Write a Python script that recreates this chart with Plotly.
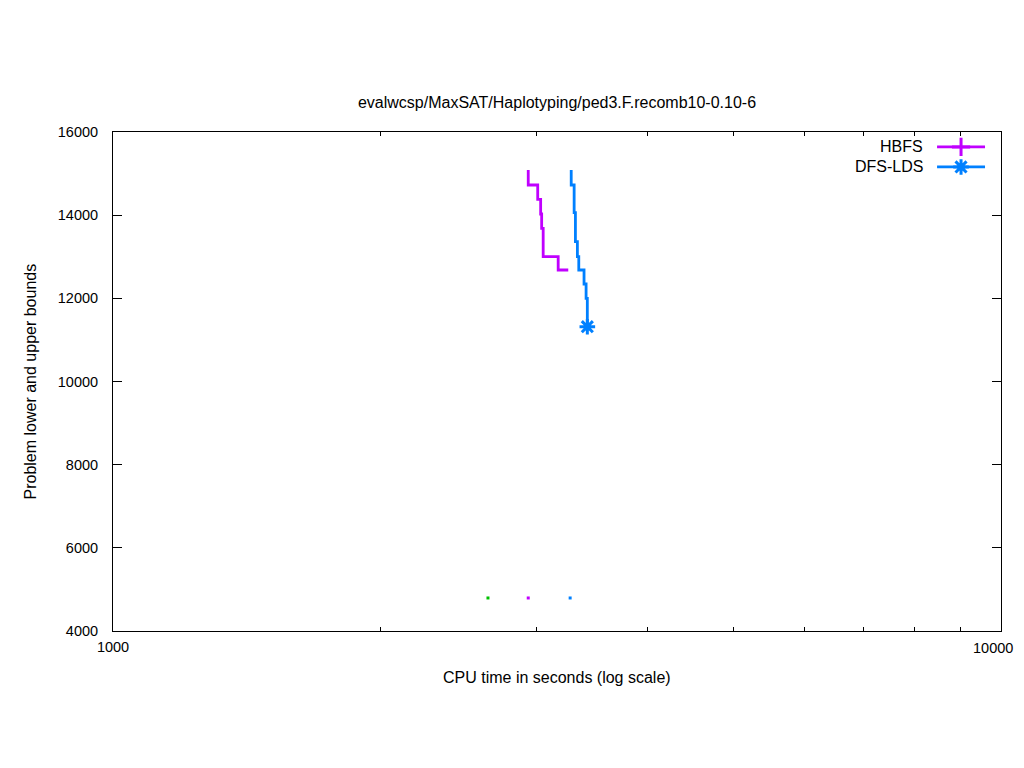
import plotly.graph_objects as go

# ---- data ----
hbfs_time = [2935, 3008, 3031, 3039, 3051, 3172, 3256]
hbfs_bound = [15086, 14725, 14382, 14028, 13684, 13001, 12681]

dfs_time = [3281, 3306, 3317, 3334, 3346, 3392, 3410, 3421, 3421]
dfs_bound = [15086, 14725, 14059, 13362, 13001, 12681, 12345, 12000, 11318]

lb_time = [2644, 2935, 3272]
lb_bound = [4794, 4794, 4794]
lb_colors = ["#00C000", "#C000FF", "#0080FF"]

x_major = [1000, 10000]
x_major_labels = ["1000", "10000"]
x_minor = [2000, 3000, 4000, 5000, 6000, 7000, 8000, 9000]
y_ticks = [4000, 6000, 8000, 10000, 12000, 14000, 16000]

PURPLE = "#C000FF"
BLUE = "#0080FF"
FONT = "Liberation Sans, Arial, sans-serif"
LW = 2.8

fig = go.Figure()

fig.add_trace(go.Scatter(x=hbfs_time, y=hbfs_bound, mode="lines",
                         line=dict(color=PURPLE, width=LW, shape="vh"),
                         showlegend=False))
fig.add_trace(go.Scatter(x=dfs_time, y=dfs_bound, mode="lines",
                         line=dict(color=BLUE, width=LW, shape="vh"),
                         showlegend=False))
fig.add_trace(go.Scatter(x=[dfs_time[-1]], y=[dfs_bound[-1]], mode="markers",
                         marker=dict(symbol="asterisk-open", size=13, color=BLUE,
                                     line=dict(color=BLUE, width=3)),
                         showlegend=False))
fig.add_trace(go.Scatter(x=lb_time, y=lb_bound, mode="markers",
                         marker=dict(symbol="square", size=3, color=lb_colors),
                         showlegend=False))

# ---- gnuplot-style legend on an overlay axis ----
legend_names = ["HBFS", "DFS-LDS"]
legend_colors = [PURPLE, BLUE]
legend_symbols = ["cross-thin-open", "asterisk-open"]
legend_y = [0.970, 0.930]
for name, col, sym, ly in zip(legend_names, legend_colors, legend_symbols, legend_y):
    fig.add_trace(go.Scatter(x=[0.928, 0.982], y=[ly, ly], mode="lines",
                             line=dict(color=col, width=LW), xaxis="x2", yaxis="y2",
                             showlegend=False, hoverinfo="skip"))
    fig.add_trace(go.Scatter(x=[0.955], y=[ly], mode="markers",
                             marker=dict(symbol=sym, size=13, color=col,
                                         line=dict(color=col, width=3)),
                             xaxis="x2", yaxis="y2", showlegend=False, hoverinfo="skip"))
    fig.add_annotation(x=0.914, y=ly, xref="paper", yref="paper", text=name,
                       showarrow=False, xanchor="right", yanchor="middle",
                       font=dict(family=FONT, size=16, color="black"))

fig.update_layout(
    width=1016, height=740,
    margin=dict(l=105, r=23, t=124, b=117),
    paper_bgcolor="white", plot_bgcolor="white",
    font=dict(family=FONT, size=14.5, color="black"),
    showlegend=False,
    title=dict(text="evalwcsp/MaxSAT/Haplotyping/ped3.F.recomb10-0.10-6",
               x=549 / 1016, xanchor="center", y=1 - 94 / 740, yanchor="middle",
               yref="container", font=dict(family=FONT, size=16)),
    xaxis=dict(type="log", range=[3, 4], tickvals=x_major, ticktext=[x_major_labels[0], ""],
               ticks="inside", ticklen=9, tickwidth=1, tickcolor="black",
               showline=True, linecolor="black", linewidth=1, mirror="allticks",
               showgrid=False, zeroline=False, automargin=False, ticklabelstandoff=3,
               tickfont=dict(family=FONT, size=14.5),
               minor=dict(tickvals=x_minor, ticks="inside", ticklen=4, tickcolor="black",
                          showgrid=False)),
    yaxis=dict(range=[4000, 16000], tickvals=y_ticks, ticktext=[str(v) for v in y_ticks],
               ticks="inside", ticklen=9, tickwidth=1, tickcolor="black",
               showline=True, linecolor="black", linewidth=1, mirror="allticks",
               showgrid=False, zeroline=False, automargin=False, ticklabelstandoff=11,
               tickfont=dict(family=FONT, size=14.5)),
    xaxis2=dict(range=[0, 1], overlaying="x", visible=False, fixedrange=True),
    yaxis2=dict(range=[0, 1], overlaying="y", visible=False, fixedrange=True),
)

# last x tick label drawn as text so it stays inside the visible page
fig.add_annotation(x=(1015 - 113) / 888, y=(631 - 648) / 499, xref="paper", yref="paper",
                   text=x_major_labels[1], showarrow=False, xanchor="right", yanchor="middle",
                   font=dict(family=FONT, size=14.5))

fig.add_annotation(x=0.5, y=(631 - 677) / 499, xref="paper", yref="paper",
                   text="CPU time in seconds (log scale)", showarrow=False,
                   xanchor="center", yanchor="middle", font=dict(family=FONT, size=16))
fig.add_annotation(x=(30 - 113) / 888, y=0.5, xref="paper", yref="paper",
                   text="Problem lower and upper bounds", showarrow=False, textangle=-90,
                   xanchor="center", yanchor="middle", font=dict(family=FONT, size=16))

fig.write_html("out.html")
